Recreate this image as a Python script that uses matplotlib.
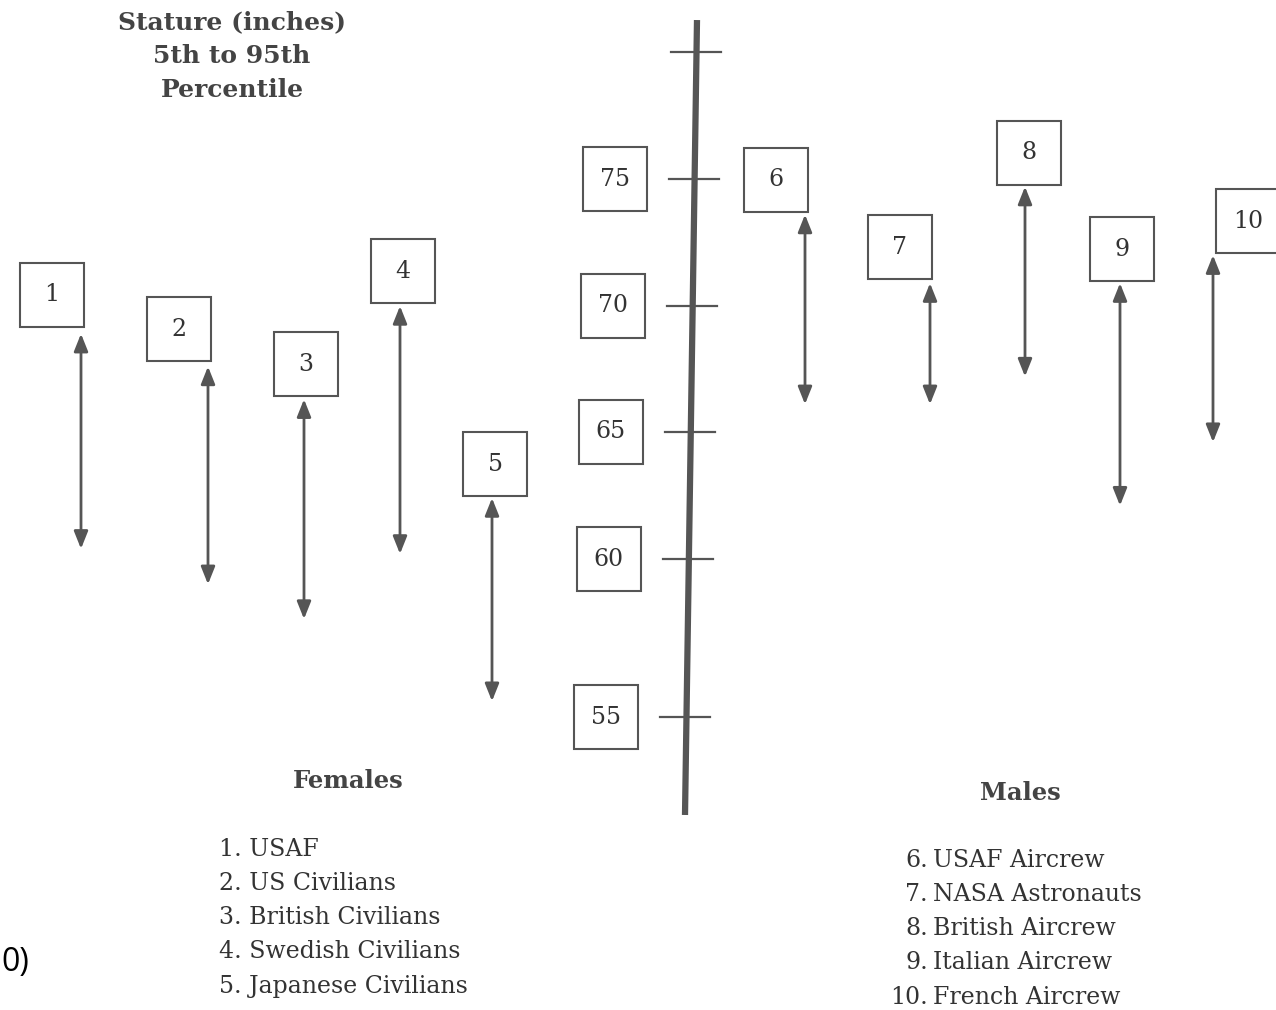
import numpy as np
import matplotlib
matplotlib.use('Agg')
import matplotlib.pyplot as plt
from matplotlib import transforms

# stature ranges (inches), 5th to 95th percentile
female_ids = ['1', '2', '3', '4', '5']
female_names = ['USAF', 'US Civilians', 'British Civilians', 'Swedish Civilians', 'Japanese Civilians']
female_low = [60.4, 59.2, 58.1, 60.2, 55.5]
female_high = [68.9, 67.6, 66.3, 70.0, 62.4]

male_ids = ['6', '7', '8', '9', '10']
male_names = ['USAF Aircrew', 'NASA Astronauts', 'British Aircrew', 'Italian Aircrew', 'French Aircrew']
male_low = [66.1, 66.1, 67.2, 62.1, 64.6]
male_high = [73.6, 70.9, 74.7, 70.9, 72.0]

scale_ticks = [80, 75, 70, 65, 60, 55]
scale_labels = ['', '75', '70', '65', '60', '55']

# the printed scale is not quite even below 60, so map it piecewise
vals = [45.73, 55, 60, 65, 70, 75, 80, 82.05]
pos = [0, 293, 451, 578, 704, 831, 958, 1010]

def fwd(v):
    return np.interp(v, vals, pos)

def inv(p):
    return np.interp(p, pos, vals)

def row(py):
    # pixel row from the top -> value on the stature scale
    return inv(1010 - py)

grey = '#555555'
ink = '#333333'
head = '#444444'
serif = 'DejaVu Serif'

fig = plt.figure(figsize=(12.76, 10.10), dpi=100)
ax = fig.add_axes([0, 0, 1, 1])
ax.set_yscale('function', functions=(fwd, inv))
ax.set_xlim(0, 1276)
ax.set_ylim(45.73, 82.05)
ax.axis('off')

# the scale bar (slightly tilted in the print)
ax_top, ax_bot = 81.26, 51.9
x_top, x_bot = 697, 685

def axis_x(v):
    f = (fwd(v) - fwd(ax_bot)) / (fwd(ax_top) - fwd(ax_bot))
    return x_bot + f * (x_top - x_bot)

ax.plot([x_bot, x_top], [ax_bot, ax_top], color=grey, lw=4.5, solid_capstyle='butt')
for v, lab in zip(scale_ticks, scale_labels):
    xa = axis_x(v)
    ax.plot([xa - 26, xa + 24], [v, v], color=grey, lw=1.6)
    if lab:
        ax.plot(xa - 80, v, marker='s', ms=46, mfc='white', mec=grey, mew=1.5)
        ax.text(xa - 80, v, lab, ha='center', va='center', fontsize=17,
                family=serif, color=ink)

# ranges with numbered boxes
xs = [81, 208, 304, 400, 492, 805, 930, 1025, 1120, 1213]
box_dx = [-29, -29, 2, 3, 3, -29, -30, 4, 2, 35]
box_dy = [39, 37, 35, 35, 34, 35, 36, 34, 34, 34]
ids = female_ids + male_ids
lows = female_low + male_low
highs = female_high + male_high

for x, lo, hi, lab, dx, dy in zip(xs, lows, highs, ids, box_dx, box_dy):
    ax.annotate('', xy=(x, lo), xytext=(x, hi),
                arrowprops=dict(arrowstyle='<|-|>,head_length=0.75,head_width=0.3',
                                color=grey, lw=2, shrinkA=0, shrinkB=0,
                                mutation_scale=14))
    tr = transforms.offset_copy(ax.transData, fig=fig, x=dx, y=dy, units='dots')
    ax.plot(x, hi, marker='s', ms=46, mfc='white', mec=grey, mew=1.5, transform=tr)
    ax.text(x, hi, lab, ha='center', va='center', fontsize=17, family=serif,
            color=ink, transform=tr)

# headings
for txt, py in zip(['Stature (inches)', '5th to 95th', 'Percentile'], [22, 56, 90]):
    ax.text(232, row(py), txt, ha='center', va='center', fontsize=18,
            fontweight='bold', family=serif, color=head)
ax.text(348, row(781), 'Females', ha='center', va='center', fontsize=17.5,
        fontweight='bold', family=serif, color=head)
ax.text(1020, row(793), 'Males', ha='center', va='center', fontsize=17.5,
        fontweight='bold', family=serif, color=head)

# keys
for i, (n, name) in enumerate(zip(female_ids, female_names)):
    ax.text(219, row(849 + 34.3 * i), n + '. ' + name, ha='left', va='center',
            fontsize=17, family=serif, color=ink)
for i, (n, name) in enumerate(zip(male_ids, male_names)):
    yv = row(860 + 34.3 * i)
    ax.text(928, yv, n + '.', ha='right', va='center', fontsize=17, family=serif, color=ink)
    ax.text(933, yv, name, ha='left', va='center', fontsize=17, family=serif, color=ink)

ax.text(1, row(962), '0)', ha='left', va='center', fontsize=23,
        family='Open Sans', color='black')

fig.savefig('out.png', dpi=100, facecolor='white')
